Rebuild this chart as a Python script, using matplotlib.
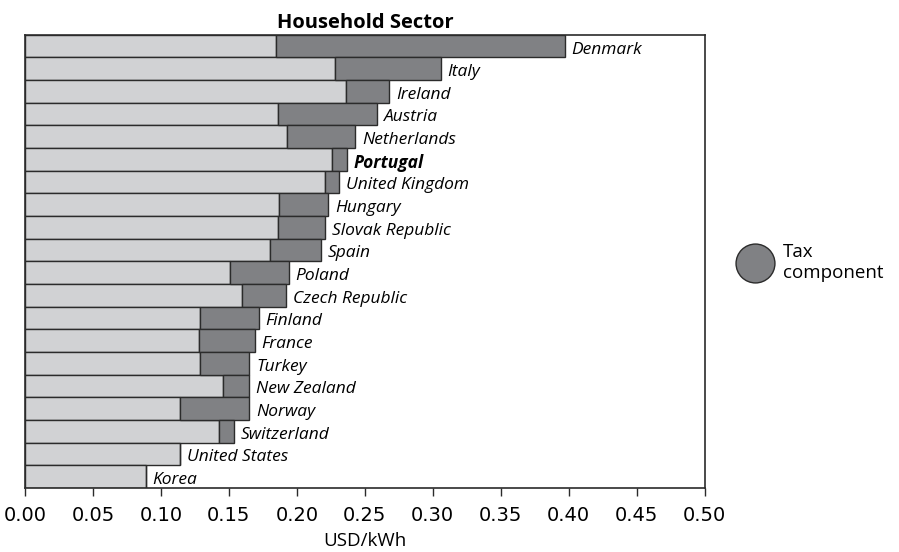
import matplotlib
matplotlib.use("Agg")
import matplotlib.pyplot as plt
from matplotlib.lines import Line2D

# electricity prices for households, USD/kWh
countries = ["Denmark", "Italy", "Ireland", "Austria", "Netherlands", "Portugal",
             "United Kingdom", "Hungary", "Slovak Republic", "Spain", "Poland",
             "Czech Republic", "Finland", "France", "Turkey", "New Zealand",
             "Norway", "Switzerland", "United States", "Korea"]
pre_tax = [0.185, 0.228, 0.236, 0.186, 0.193, 0.226, 0.221, 0.187, 0.186, 0.180,
           0.151, 0.160, 0.129, 0.128, 0.129, 0.146, 0.114, 0.143, 0.114, 0.089]
total = [0.397, 0.306, 0.268, 0.259, 0.243, 0.237, 0.231, 0.223, 0.221, 0.218,
         0.194, 0.192, 0.172, 0.169, 0.165, 0.165, 0.165, 0.154, 0.114, 0.089]
xticks = [0.0, 0.05, 0.10, 0.15, 0.20, 0.25, 0.30, 0.35, 0.40, 0.45, 0.50]

base_col = "#d1d2d4"
tax_col = "#808184"
edge_col = "#2b2b2b"

fig = plt.figure(figsize=(8.99, 5.52), dpi=100)
ax = fig.add_axes([0.0278, 0.116, 0.756, 0.821])

y = list(range(len(countries)))
tax = [t - p for t, p in zip(total, pre_tax)]
ax.barh(y, pre_tax, height=1.0, color=base_col, edgecolor=edge_col, linewidth=1.0)
ax.barh(y, tax, left=pre_tax, height=1.0, color=tax_col, edgecolor=edge_col, linewidth=1.0)

for i, (name, t) in enumerate(zip(countries, total)):
    ax.text(t + 0.005, i + 0.15, name, va="center", ha="left", fontsize=12.5,
            family="Open Sans", style="italic",
            fontweight="bold" if name == "Portugal" else "normal")

ax.set_ylim(len(countries) - 0.5, -0.5)
ax.set_xlim(0, 0.5)
ax.set_yticks([])
ax.set_xticks(xticks)
ax.set_xticklabels([f"{v:.2f}" for v in xticks], fontsize=14, family="DejaVu Sans")
ax.tick_params(axis="x", direction="out", length=6, width=1, color=edge_col, pad=7)
for s in ax.spines.values():
    s.set_color(edge_col)
    s.set_linewidth(1.2)

ax.set_xlabel("USD/kWh", fontsize=13.5, family="Open Sans", labelpad=5)
ax.set_title("Household Sector", fontsize=14.5, fontweight="bold",
             family="Open Sans", pad=5)

handle = Line2D([], [], linestyle="none", marker="o", markersize=28,
                markerfacecolor=tax_col, markeredgecolor=edge_col, markeredgewidth=1.0)
fig.legend([handle], ["Tax\ncomponent"], loc="center left",
           bbox_to_anchor=(0.806, 0.525), frameon=False, handlelength=1.4,
           handletextpad=0.8, prop={"family": "Open Sans", "size": 13.5})

fig.savefig("out.png", dpi=100)
